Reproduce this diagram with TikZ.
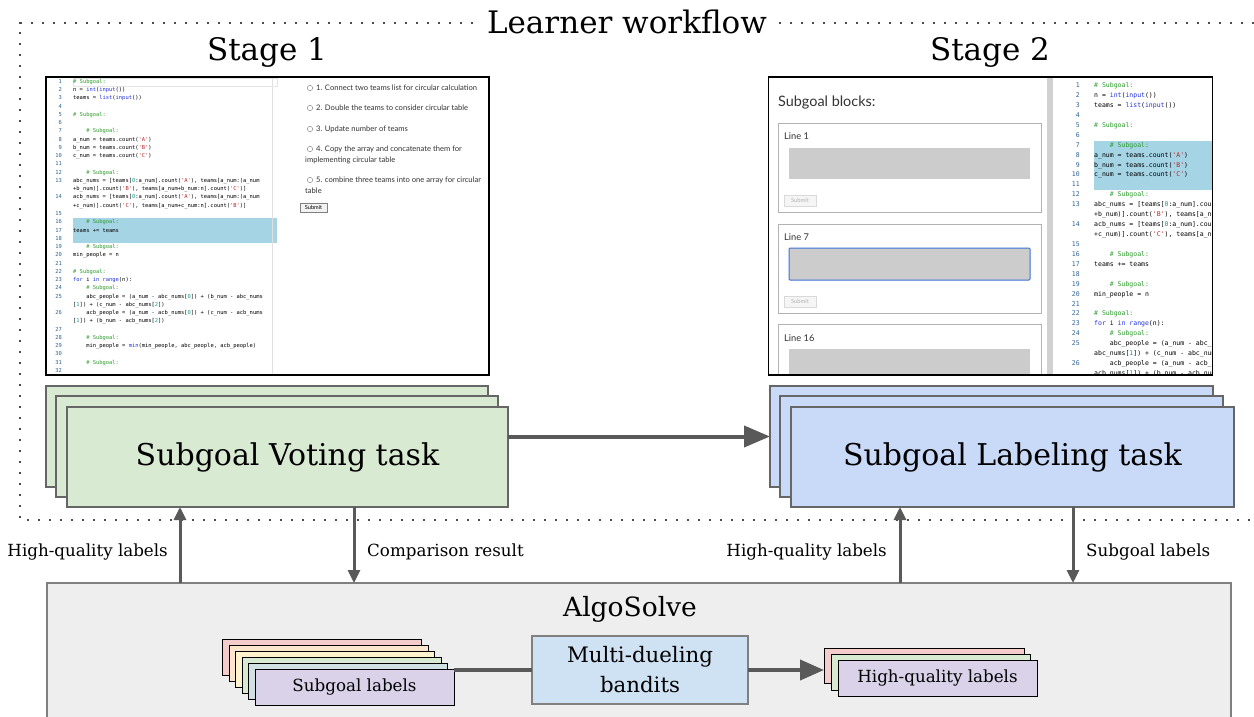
\documentclass[tikz,border=0pt]{standalone}
\usepackage{fontspec}
\setmainfont{DejaVu Serif}
\newfontfamily\uifont{Lato}
\newfontfamily\codefont{DejaVu Sans Mono}
\usetikzlibrary{arrows.meta,calc}
\definecolor{gfill}{HTML}{D9EAD3}
\definecolor{bfill}{HTML}{C9DAF8}
\definecolor{agray}{HTML}{595959}
\definecolor{bordergray}{HTML}{666666}
\definecolor{algofill}{HTML}{EEEEEE}
\definecolor{pinkc}{HTML}{F4CCCC}
\definecolor{orangec}{HTML}{FCE5CD}
\definecolor{yellowc}{HTML}{FFF2CC}
\definecolor{greenc}{HTML}{D9EAD3}
\definecolor{tealc}{HTML}{D0E0E3}
\definecolor{purplec}{HTML}{D9D2E9}
\definecolor{bandfill}{HTML}{CFE2F3}
\definecolor{hl}{HTML}{A5D4E4}
\definecolor{cmt}{HTML}{2E9B2E}
\definecolor{kw}{HTML}{2233DD}
\definecolor{lnum}{HTML}{2F6396}
\definecolor{strc}{HTML}{BB2222}
\definecolor{numc}{HTML}{11998E}
\definecolor{uitext}{HTML}{333333}
\definecolor{focusblue}{HTML}{3D72D8}
\newcommand\qq{\char"27\relax}
\newcommand\kw[1]{\textcolor{kw}{#1}}
\newcommand\st[1]{\textcolor{strc}{\qq#1\qq}}
\newcommand\nm[1]{\textcolor{numc}{#1}}
\newcommand\cm{\textcolor{cmt}{\#~Subgoal:}}
\tikzset{
  box/.style={draw, rectangle, inner sep=0pt, outer sep=0pt},
  task/.style={box, draw=bordergray, line width=1.2pt, font=\fontsize{30}{36}\selectfont},
  small/.style={box, draw=black, line width=1pt, font=\fontsize{16.7}{20}\selectfont},
  lbl/.style={font=\fontsize{16.7}{20}\selectfont, inner sep=0pt},
  big/.style={font=\fontsize{31}{37}\selectfont, inner sep=0pt},
  varrow/.style={draw=agray, line width=3pt, -{Triangle[length=13pt,width=12pt]}},
  harrow/.style={draw=agray, line width=4pt, -{Triangle[length=26pt,width=21pt]}},
  dotframe/.style={draw=black!70, line width=2.2pt, dash pattern=on 2.2pt off 8.8pt},
  codeA/.style={anchor=west, inner sep=0pt, text height=4pt, text depth=1.3pt, font=\codefont\fontsize{5.43}{6}\selectfont},
  numA/.style={anchor=east, inner sep=0pt, text height=4pt, text depth=1.3pt, text=lnum, font=\codefont\fontsize{5.43}{6}\selectfont},
  codeB/.style={anchor=west, inner sep=0pt, text height=4.7pt, text depth=1.5pt, font=\codefont\fontsize{6.5}{7}\selectfont},
  numB/.style={anchor=east, inner sep=0pt, text height=4.7pt, text depth=1.5pt, text=lnum, font=\codefont\fontsize{6.5}{7}\selectfont},
  opt/.style={anchor=west, inner sep=0pt, text=uitext, font=\uifont\fontsize{7.6}{9}\selectfont},
  uilbl/.style={anchor=west, inner sep=0pt, text=uitext, font=\uifont\fontsize{9.3}{11}\selectfont},
  dissub/.style={box, draw=black!15, fill=black!4, line width=0.5pt, minimum width=32pt, minimum height=11pt, text=black!30, font=\uifont\fontsize{5.8}{7}\selectfont},
}
\begin{document}
\begin{tikzpicture}[x=1pt,y=-1pt]
\useasboundingbox (0,0) rectangle (1254,717);
% dotted frame
\draw[dotframe] (1254,23) -- (20,23) -- (20,520) -- (1254,520);
\node[big, fill=white, inner xsep=8pt, inner ysep=2pt] (title) at (627,22) {Learner workflow};
\node[big] (stage1) at (267,52) {Stage 1};
\node[big] (stage2) at (990,52) {Stage 2};

% ---------- Stage 1 screenshot ----------
\node[box, fill=white, minimum width=443pt, minimum height=298pt] (shot1) at (267.5,226) {};
\fill[hl] (73,218) rectangle (277,243);
\draw[black!12, line width=0.6pt] (272,78) -- (272,375);
\draw[black!10, line width=0.6pt] (73,78) rectangle (277,86);
\foreach \r/\n/\i/\t in {
0/1/0/{\cm},
1/2/0/{n = \kw{int}(\kw{input}())},
2/3/0/{teams = \kw{list}(\kw{input}())},
3/4/0/{},
4/5/0/{\cm},
5/6/0/{},
6/7/1/{\cm},
7/8/0/{a\_num = teams.count(\st{A})},
8/9/0/{b\_num = teams.count(\st{B})},
9/10/0/{c\_num = teams.count(\st{C})},
10/11/0/{},
11/12/1/{\cm},
12/13/0/{abc\_nums = [teams[\nm{0}:a\_num].count(\st{A}), teams[a\_num:(a\_num},
13//0/{+b\_num)].count(\st{B}), teams[a\_num+b\_num:n].count(\st{C})]},
14/14/0/{acb\_nums = [teams[\nm{0}:a\_num].count(\st{A}), teams[a\_num:(a\_num},
15//0/{+c\_num)].count(\st{C}), teams[a\_num+c\_num:n].count(\st{B})]},
16/15/0/{},
17/16/1/{\cm},
18/17/0/{teams += teams},
19/18/0/{},
20/19/1/{\cm},
21/20/0/{min\_people = n},
22/21/0/{},
23/22/0/{\cm},
24/23/0/{\kw{for} i \kw{in} \kw{range}(n):},
25/24/1/{\cm},
26/25/1/{abc\_people = (a\_num - abc\_nums[\nm{0}]) + (b\_num - abc\_nums},
27//0/{[\nm{1}]) + (c\_num - abc\_nums[\nm{2}])},
28/26/1/{acb\_people = (a\_num - acb\_nums[\nm{0}]) + (c\_num - acb\_nums},
29//0/{[\nm{1}]) + (b\_num - acb\_nums[\nm{2}])},
30/27/0/{},
31/28/1/{\cm},
32/29/1/{min\_people = \kw{min}(min\_people, abc\_people, acb\_people)},
33/30/0/{},
34/31/1/{\cm},
35/32/0/{}}
{
  \node[numA] (an\r) at (62,{82+\r*8.26}) {\n};
  \node[codeA] (ac\r) at ({73+\i*13.08},{82+\r*8.26}) {\t};
}
% options
\foreach \k/\y in {1/88,2/108,3/129,4/149,5/180}{
  \draw[black!45, line width=0.5pt, fill=white] (310,\y) circle (2.7pt);
}
\node[opt] (o1) at (316,88) {1. Connect two teams list for circular calculation};
\node[opt] (o2) at (316,108) {2. Double the teams to consider circular table};
\node[opt] (o3) at (316,129) {3. Update number of teams};
\node[opt] (o4) at (316,149) {4. Copy the array and concatenate them for};
\node[opt] (o4b) at (305,160) {implementing circular table};
\node[opt] (o5) at (316,180) {5. combine three teams into one array for circular};
\node[opt] (o5b) at (305,191) {table};
\node[box, draw=black!50, fill=black!5, line width=0.5pt, minimum width=27pt, minimum height=9pt, font=\uifont\fontsize{5.6}{6}\selectfont] (sub1) at (313.5,207.5) {Submit};

% ---------- Stage 2 screenshot ----------
\node[box, fill=white, minimum width=444pt, minimum height=298pt] (shot2) at (990.5,226) {};
\begin{scope}
\clip (769,78) rectangle (1212,374);
\fill[black!18] (1047,78) rectangle (1053,374);
\fill[hl] (1094,141) rectangle (1212,190);
\node[anchor=west, inner sep=0pt, text=uitext, font=\uifont\fontsize{14.4}{16}\selectfont] (sbh) at (778,103) {Subgoal blocks:};
% block 1
\draw[black!30, line width=0.7pt] (778,123) rectangle (1041,212);
\node[uilbl] (ln1) at (784,136) {Line 1};
\fill[black!20] (789,148) rectangle (1030,179);
\node[dissub] (sb1) at (800,200.5) {Submit};
% block 2
\draw[black!30, line width=0.7pt] (778,224) rectangle (1041,313);
\node[uilbl] (ln7) at (784,237) {Line 7};
\draw[fill=black!20, draw=focusblue, line width=1pt, rounded corners=1pt] (789,248) rectangle (1030,280);
\node[dissub] (sb2) at (800,301.5) {Submit};
% block 3
\draw[black!30, line width=0.7pt] (778,324) rectangle (1041,400);
\node[uilbl] (ln16) at (784,338) {Line 16};
\fill[black!20] (789,349) rectangle (1030,400);
\foreach \r/\n/\i/\t in {
0/1/0/{\cm},
1/2/0/{n = \kw{int}(\kw{input}())},
2/3/0/{teams = \kw{list}(\kw{input}())},
3/4/0/{},
4/5/0/{\cm},
5/6/0/{},
6/7/1/{\cm},
7/8/0/{a\_num = teams.count(\st{A})},
8/9/0/{b\_num = teams.count(\st{B})},
9/10/0/{c\_num = teams.count(\st{C})},
10/11/0/{},
11/12/1/{\cm},
12/13/0/{abc\_nums = [teams[\nm{0}:a\_num].coun},
13//0/{+b\_num)].count(\st{B}), teams[a\_nu},
14/14/0/{acb\_nums = [teams[\nm{0}:a\_num].coun},
15//0/{+c\_num)].count(\st{C}), teams[a\_nu},
16/15/0/{},
17/16/1/{\cm},
18/17/0/{teams += teams},
19/18/0/{},
20/19/1/{\cm},
21/20/0/{min\_people = n},
22/21/0/{},
23/22/0/{\cm},
24/23/0/{\kw{for} i \kw{in} \kw{range}(n):},
25/24/1/{\cm},
26/25/1/{abc\_people = (a\_num - abc\_n},
27//0/{abc\_nums[\nm{1}]) + (c\_num - abc\_num},
28/26/1/{acb\_people = (a\_num - acb\_n},
29//0/{acb\_nums[\nm{1}]) + (b\_num - acb\_num}}
{
  \node[numB] (bn\r) at (1080,{86+\r*9.93}) {\n};
  \node[codeB] (bc\r) at ({1094+\i*15.7},{86+\r*9.93}) {\t};
}
\end{scope}
\draw[black, line width=1.5pt] (shot2.north west) rectangle (shot2.south east);
\draw[black, line width=1.5pt] (shot1.north west) rectangle (shot1.south east);

% ---------- task boxes ----------
\node[task, fill=gfill, minimum width=442pt, minimum height=101pt] (gback) at (267,436.5) {};
\node[task, fill=gfill, minimum width=442pt, minimum height=101pt] (gmid) at (277,446.5) {};
\node[task, fill=gfill, minimum width=441pt, minimum height=100pt] (gfront) at (287.5,457) {Subgoal Voting task};
\node[task, fill=bfill, minimum width=443pt, minimum height=101pt] (bback) at (991.5,436.5) {};
\node[task, fill=bfill, minimum width=443pt, minimum height=101pt] (bmid) at (1001.5,446.5) {};
\node[task, fill=bfill, minimum width=443pt, minimum height=100pt] (bfront) at (1012.5,457) {Subgoal Labeling task};
\draw[harrow] (gfront.east |- gback.center) -- (bback.west);

% ---------- AlgoSolve ----------
\node[box, draw=black!50, line width=1.5pt, fill=algofill, minimum width=1184pt, minimum height=147pt] (algo) at (639,656.5) {};
\node[font=\fontsize{26.5}{30}\selectfont, inner sep=0pt] (algotitle) at (630,609) {AlgoSolve};

\coordinate (xa) at (180,0);
\coordinate (xb) at (354,0);
\coordinate (xc) at (900,0);
\coordinate (xd) at (1073,0);
\draw[varrow] (algo.north -| xa) -- (gfront.south -| xa);
\draw[varrow] (gfront.south -| xb) -- (algo.north -| xb);
\draw[varrow] (algo.north -| xc) -- (bfront.south -| xc);
\draw[varrow] (bfront.south -| xd) -- (algo.north -| xd);
\node[lbl, anchor=east] (l1) at (168,552) {High-quality labels};
\node[lbl, anchor=west] (l2) at (367,552) {Comparison result};
\node[lbl, anchor=east] (l3) at (887,552) {High-quality labels};
\node[lbl, anchor=west] (l4) at (1086,552) {Subgoal labels};

% subgoal labels stack
\node[small, fill=pinkc, minimum width=199pt, minimum height=36pt] (sl1) at (321.5,657) {};
\node[small, fill=orangec, minimum width=199pt, minimum height=36pt] (sl2) at (328.5,663) {};
\node[small, fill=yellowc, minimum width=199pt, minimum height=36pt] (sl3) at (334.5,669) {};
\node[small, fill=greenc, minimum width=199pt, minimum height=36pt] (sl4) at (341.5,675) {};
\node[small, fill=tealc, minimum width=199pt, minimum height=36pt] (sl5) at (347.5,681) {};
\node[small, fill=purplec, minimum width=199pt, minimum height=36pt] (sl6) at (354.5,687) {Subgoal labels};

\node[box, draw=black!50, line width=1.2pt, fill=bandfill, minimum width=216pt, minimum height=68pt, align=center, font=\fontsize{21.3}{30}\selectfont] (band) at (640,670) {Multi-dueling\\bandits};

\node[small, fill=pinkc, minimum width=200pt, minimum height=35pt] (hq1) at (924,665.5) {};
\node[small, fill=greenc, minimum width=199pt, minimum height=36pt] (hq2) at (930.5,672) {};
\node[small, fill=purplec, minimum width=199pt, minimum height=36pt] (hq3) at (937.5,678) {High-quality labels};

\draw[draw=agray, line width=4pt] (band.west) -- (band.west -| sl6.east);
\draw[draw=agray, line width=4pt, -{Triangle[length=24pt,width=20pt]}] (band.east) -- (band.east -| hq1.west);
\end{tikzpicture}
\end{document}
